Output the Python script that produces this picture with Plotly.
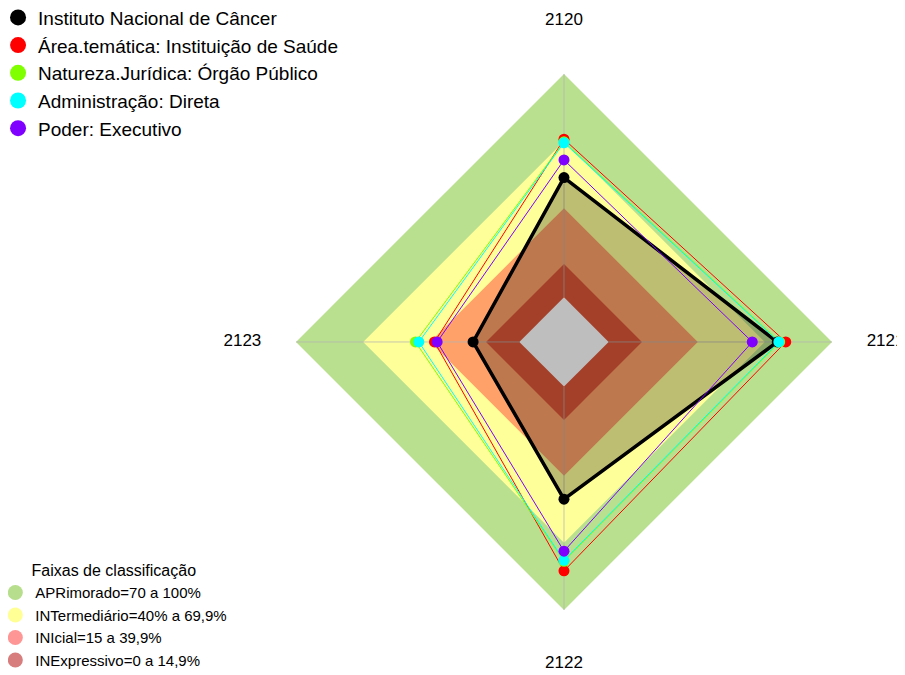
import plotly.graph_objects as go

# eixos (indicadores)
eixos = ['2120', '2121', '2122', '2123']

# séries (% por indicador)
series_nomes = [
    'Instituto Nacional de Câncer',
    'Área.temática: Instituição de Saúde',
    'Natureza.Jurídica: Órgão Público',
    'Administração: Direta',
    'Poder: Executivo',
]
inca = [53.6, 75.5, 50.4, 20.7]
area_tematica = [70.8, 79.3, 82.5, 38.0]
natureza_juridica = [69.6, 76.6, 78.2, 46.5]
administracao = [69.2, 76.2, 77.8, 45.0]
poder = [61.5, 64.3, 73.7, 36.8]
series_cores = ['#000000', '#FF0000', '#7FFF00', '#00FFFF', '#7F00FF']

# faixas de classificação
faixas_nomes = [
    'APRimorado=70 a 100%',
    'INTermediário=40% a 69,9%',
    'INIcial=15 a 39,9%',
    'INExpressivo=0 a 14,9%',
]
faixas_lim = [100, 69.9, 39.9, 14.9]
faixas_cores = ['#B9E08E', '#FFFF99', '#FFA169', '#DD5638']
faixas_legenda = ['#B7DE8C', '#FFFF96', '#FF9696', '#D77D7D']

r_min, r_label = -20, 124
fechado = eixos + eixos[:1]

fig = go.Figure()

# faixas (diamantes sobrepostos)
for lim, cor in zip(faixas_lim, faixas_cores):
    fig.add_trace(go.Scatterpolar(
        r=[lim] * 5, theta=fechado, mode='lines', fill='toself',
        fillcolor=cor, line=dict(width=0, color=cor),
        showlegend=False, hoverinfo='skip'))
fig.add_trace(go.Scatterpolar(
    r=[0] * 5, theta=fechado, mode='lines', fill='toself',
    fillcolor='white', line=dict(width=0, color='white'),
    showlegend=False, hoverinfo='skip'))

# eixos radiais
for e in eixos:
    fig.add_trace(go.Scatterpolar(
        r=[0, faixas_lim[0]], theta=[e, e], mode='lines',
        line=dict(color='rgba(180,180,180,0.75)', width=1),
        showlegend=False, hoverinfo='skip'))

valores = [inca, area_tematica, natureza_juridica, administracao, poder]
for i, (nome, vals, cor) in enumerate(zip(series_nomes, valores, series_cores)):
    principal = i == 0
    fig.add_trace(go.Scatterpolar(
        r=vals + vals[:1], theta=fechado, mode='lines',
        fill='toself' if principal else 'none',
        fillcolor='rgba(0,0,0,0.255)',
        line=dict(color=cor, width=3.5 if principal else 1),
        showlegend=False, hoverinfo='skip'))
for nome, vals, cor in zip(series_nomes, valores, series_cores):
    fig.add_trace(go.Scatterpolar(
        r=vals, theta=eixos, mode='markers',
        marker=dict(color=cor, size=11),
        showlegend=False, name=nome))

# rótulos dos eixos
fig.add_trace(go.Scatterpolar(
    r=[r_label] * 4, theta=eixos, mode='text', text=eixos,
    textfont=dict(size=17, color='black'), cliponaxis=False,
    showlegend=False, hoverinfo='skip'))

# legendas
for nome, cor in zip(series_nomes, series_cores):
    fig.add_trace(go.Scatterpolar(
        r=[None], theta=[None], mode='markers', name=nome,
        marker=dict(color=cor, size=16), legend='legend'))
for nome, cor in zip(faixas_nomes, faixas_legenda):
    fig.add_trace(go.Scatterpolar(
        r=[None], theta=[None], mode='markers', name=nome,
        marker=dict(color=cor, size=15), legend='legend2'))

fig.update_layout(
    width=905, height=675,
    margin=dict(l=0, r=0, t=0, b=0, autoexpand=False),
    paper_bgcolor='white', plot_bgcolor='white',
    showlegend=True,
    font=dict(family='Liberation Sans, Arial, sans-serif', color='black'),
    polar=dict(
        domain=dict(x=[0.259, 0.9697], y=[0.0288, 0.9817]),
        bgcolor='rgba(0,0,0,0)',
        gridshape='linear',
        radialaxis=dict(range=[r_min, r_label], visible=False, showgrid=False),
        angularaxis=dict(type='category', categoryarray=eixos,
                         direction='clockwise', rotation=90,
                         visible=False, showgrid=False, showline=False),
    ),
    legend=dict(x=-0.011, y=1.014, xref='paper', yref='paper',
                xanchor='left', yanchor='top', font=dict(size=19),
                bgcolor='rgba(0,0,0,0)', tracegroupgap=0),
    legend2=dict(x=-0.014, y=0.0096, xref='paper', yref='paper',
                 xanchor='left', yanchor='bottom', font=dict(size=15),
                 bgcolor='rgba(0,0,0,0)',
                 title=dict(text='Faixas de classificação', side='top center',
                            font=dict(size=16))),
)

fig.write_html('out.html')
